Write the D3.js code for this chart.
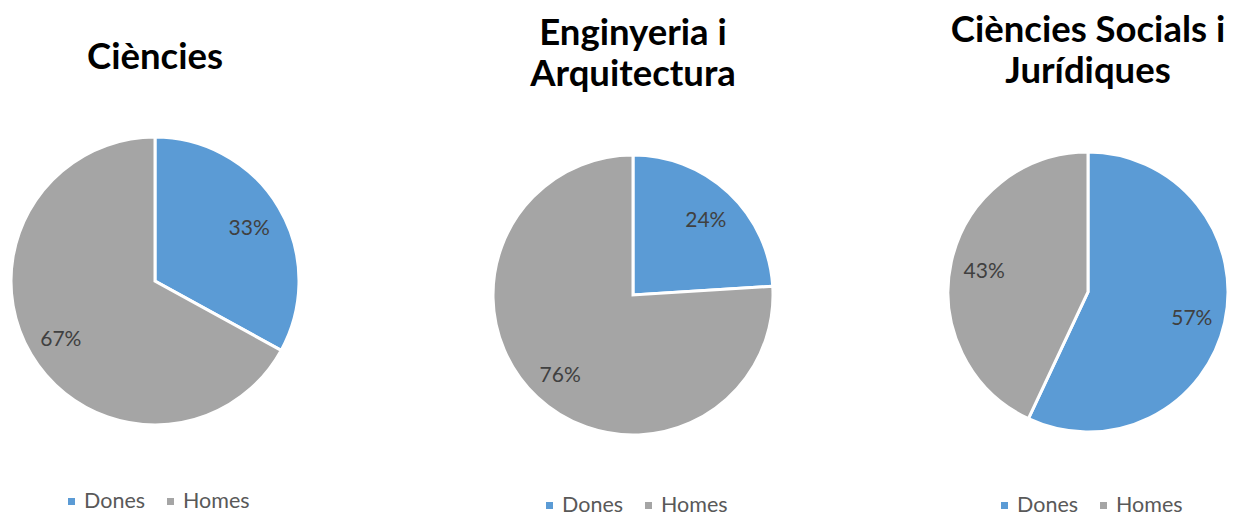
<!DOCTYPE html>
<html>
<head>
<meta charset="utf-8">
<script src="https://cdn.jsdelivr.net/npm/d3@7"></script>
<style>
  html, body { margin: 0; padding: 0; background: #fff; overflow: hidden; }
  svg { display: block; font-family: Lato, "Open Sans", sans-serif; }
</style>
</head>
<body>
<div id="chart"></div>
<script>
// data
const titles = [["Ciències"], ["Enginyeria i", "Arquitectura"], ["Ciències Socials i", "Jurídiques"]];
const categories = ["Dones", "Homes"];
const dones = [33, 24, 57];
const homes = [67, 76, 43];

// colours per category
const colors = {Dones: "#5b9bd5", Homes: "#a5a5a5"};

// layout of each panel: pie center, radius, title baselines, legend baseline
const panels = [
  {cx: 155, cy: 281, r: 144, titleY: [69], legendY: 508},
  {cx: 633, cy: 295, r: 140, titleY: [45, 86], legendY: 512},
  {cx: 1088, cy: 292, r: 140, titleY: [42, 83], legendY: 512}
];

const W = 1235, H = 517;

const svg = d3.select("#chart")
  .append("svg")
  .attr("width", W)
  .attr("height", H);

const pie = d3.pie()
  .sort(null)
  .value(function(d) { return d.value; });

titles.forEach(function(t, i) {
  const p = panels[i];
  const rows = [
    {name: categories[0], value: dones[i]},
    {name: categories[1], value: homes[i]}
  ];
  const total = d3.sum(rows, function(d) { return d.value; });

  const g = svg.append("g")
    .attr("transform", "translate(" + p.cx + "," + p.cy + ")");

  const arc = d3.arc().innerRadius(0).outerRadius(p.r);
  const labelArc = d3.arc().innerRadius(p.r * 0.76).outerRadius(p.r * 0.76);

  g.selectAll("path.slice")
    .data(pie(rows))
    .enter()
    .append("path")
    .attr("class", "slice")
    .attr("d", arc)
    .attr("fill", function(d) { return colors[d.data.name]; })
    .attr("stroke", "#fff")
    .attr("stroke-width", 3)
    .attr("stroke-linejoin", "miter");

  g.selectAll("text.lbl")
    .data(pie(rows))
    .enter()
    .append("text")
    .attr("class", "lbl")
    .attr("transform", function(d) { return "translate(" + labelArc.centroid(d) + ")"; })
    .attr("text-anchor", "middle")
    .attr("dy", "0.45em")
    .attr("font-size", 21)
    .attr("fill", "#404040")
    .text(function(d) { return d3.format(".0%")(d.data.value / total); });

  // title, possibly in two lines
  t.forEach(function(line, j) {
    svg.append("text")
      .attr("x", p.cx)
      .attr("y", p.titleY[j])
      .attr("text-anchor", "middle")
      .attr("font-size", 36.5)
      .attr("font-weight", "bold")
      .attr("fill", "#000")
      .text(line);
  });

  // legend below the pie
  const leg = svg.append("g")
    .attr("transform", "translate(" + p.cx + "," + p.legendY + ")");
  const items = leg.selectAll("g.item")
    .data(categories)
    .enter()
    .append("g")
    .attr("class", "item")
    .attr("transform", function(d, k) { return "translate(" + (-87 + k * 99) + ",0)"; });
  items.append("rect")
    .attr("x", 0).attr("y", -10)
    .attr("width", 7).attr("height", 7)
    .attr("fill", function(d) { return colors[d]; });
  items.append("text")
    .attr("x", 16)
    .attr("font-size", 21.5)
    .attr("fill", "#595959")
    .text(function(d) { return d; });
});
</script>
</body>
</html>
